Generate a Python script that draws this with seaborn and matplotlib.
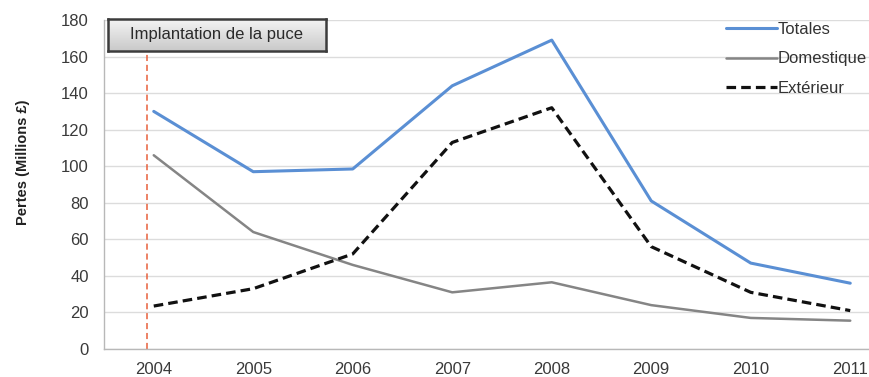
import matplotlib
matplotlib.use("Agg")
import matplotlib.pyplot as plt
import numpy as np
import pandas as pd
import seaborn as sns

# Pertes liées à la fraude sur les cartes, en millions de livres
annees = ["2004", "2005", "2006", "2007", "2008", "2009", "2010", "2011"]
totales = [130, 97, 98.5, 144, 169, 81, 47, 36]
domestique = [106, 64, 46, 31, 36.5, 24, 17, 15.5]
exterieur = [23.5, 33, 52, 113, 132, 56, 31, 21]
y_ticks = [0, 20, 40, 60, 80, 100, 120, 140, 160, 180]

series = {"Totales": totales, "Domestique": domestique, "Extérieur": exterieur}
df = pd.concat(
    [pd.DataFrame({"pos": np.arange(len(annees)), "annee": annees,
                   "valeur": v, "serie": k}) for k, v in series.items()],
    ignore_index=True,
)

sns.set_style("white")
plt.rcParams["font.family"] = ["Liberation Sans", "DejaVu Sans"]

fig = plt.figure(figsize=(8.7, 3.77), dpi=100)
ax = fig.add_axes([104 / 870, 1 - 349 / 377, 796 / 870, 329 / 377])

palette = {"Totales": "#5a8fd4", "Domestique": "#858585", "Extérieur": "#111111"}
widths = {"Totales": 2.2, "Domestique": 1.8, "Extérieur": 2.3}
lines = {}
for nom in series:
    sub = df[df["serie"] == nom]
    sns.lineplot(data=sub, x="pos", y="valeur", ax=ax, color=palette[nom],
                 linewidth=widths[nom], label=nom, legend=False)
    lines[nom] = ax.lines[-1]
lines["Extérieur"].set_dashes((3, 1.6))

ax.set_xlim(-0.5, len(annees) - 0.5)
ax.set_ylim(0, 180)
ax.set_yticks(y_ticks)
ax.set_xticks(np.arange(len(annees)))
ax.set_xticklabels(annees)
ax.set_xticks(np.arange(len(annees) + 1) - 0.5, minor=True)
ax.tick_params(axis="x", which="major", length=0, pad=9,
               labelsize=12, labelcolor="#3a3a3a")
ax.tick_params(axis="x", which="minor", length=5, width=1,
               color="#b0b0b0", direction="out")
ax.tick_params(axis="y", length=5, width=1, color="#b0b0b0",
               direction="out", pad=6, labelsize=12, labelcolor="#3a3a3a")
ax.yaxis.grid(True, color="#dcdcdc", linewidth=1)
ax.set_axisbelow(True)
for s in ["top", "right"]:
    ax.spines[s].set_visible(False)
for s in ["left", "bottom"]:
    ax.spines[s].set_color("#b8b8b8")
    ax.spines[s].set_linewidth(1)

ax.set_xlabel("")
ax.set_ylabel("Pertes (Millions £)", fontsize=10.5, fontweight="bold",
              color="#222222")
ax.yaxis.set_label_coords(-0.093, 0.568)

# Ligne marquant l'implantation de la puce
ax.vlines(-0.07, 0, 163, colors="#e8603c", linestyles=(0, (4, 2.5)),
          linewidth=1.1, zorder=1)

leg = ax.legend(handles=[lines[k] for k in series], labels=list(series),
                loc="upper left", bbox_to_anchor=(726 / 870, 1 - 22 / 377),
                bbox_transform=fig.transFigure, frameon=False, fontsize=12,
                handlelength=3.05, handletextpad=0.05, labelspacing=0.87,
                borderaxespad=0, borderpad=0)
for t in leg.get_texts():
    t.set_color("#333333")

# Encadré « Implantation de la puce » avec dégradé gris
bx = fig.add_axes([108 / 870, 1 - 51 / 377, 218 / 870, 32 / 377])
grad = np.linspace(0, 1, 64).reshape(-1, 1)
bx.imshow(grad, aspect="auto", cmap=matplotlib.colors.LinearSegmentedColormap
          .from_list("g", ["#f4f4f4", "#c9c9c9"]), extent=(0, 1, 0, 1),
          origin="upper")
bx.set_xticks([])
bx.set_yticks([])
for s in bx.spines.values():
    s.set_color("#3c3c3c")
    s.set_linewidth(1.8)
bx.text(0.5, 0.5, "Implantation de la puce", ha="center", va="center",
        fontsize=12, color="#2a2a2a", transform=bx.transAxes)

fig.savefig("out.png", dpi=100)
